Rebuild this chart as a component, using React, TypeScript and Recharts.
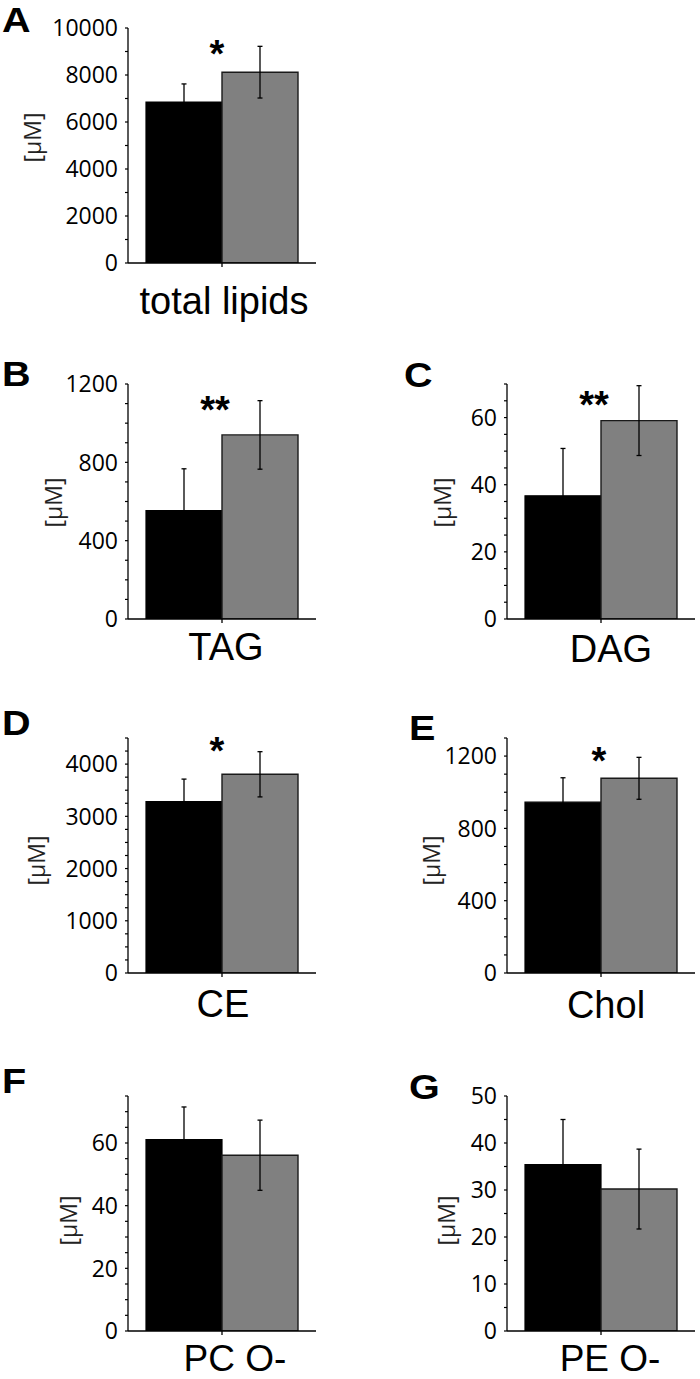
import React from 'react';
import { BarChart, Bar, XAxis, YAxis, ErrorBar, ReferenceDot } from 'recharts';

// one category per panel, two groups (black / gray)
const panelLetters = ['A', 'B', 'C', 'D', 'E', 'F', 'G'];
const lipidClasses = ['total lipids', 'TAG', 'DAG', 'CE', 'Chol', 'PC O-', 'PE O-'];
const blackMeans = [6850, 554, 36.7, 3280, 945, 61.1, 35.4];
const blackErrors = [770, 213, 14.1, 433, 135, 10.4, 9.6];
const grayMeans = [8120, 940, 59.1, 3805, 1077, 56.1, 30.2];
const grayErrors = [1100, 175, 10.4, 433, 116, 11.2, 8.5];
const significance = ['*', '**', '**', '*', '*', '', ''];
const significanceLevel = [9280, 1115, 66.4, 4430, 1222, 0, 0];
const axisMax = [10000, 1200, 70, 4500, 1300, 75, 50];
const majorTicks = [
    [0, 2000, 4000, 6000, 8000, 10000],
    [0, 400, 800, 1200],
    [0, 20, 40, 60],
    [0, 1000, 2000, 3000, 4000],
    [0, 400, 800, 1200],
    [0, 20, 40, 60],
    [0, 10, 20, 30, 40, 50],
];
const minorStep = [1000, 100, 5, 250, 100, 5, 5];

// page placement of each panel
const layout = [
    { left: 0, plotTop: 28, letterX: 2, letterY: 7, yLabelOffset: 96, yLabelDy: -8, catDx: 2, catMargin: 20, sigDx: -5 },
    { left: 0, plotTop: 383.5, letterX: 2, letterY: 361, yLabelOffset: 75, yLabelDy: 1, catDx: 4, catMargin: 10, sigDx: -7 },
    { left: 379, plotTop: 384, letterX: 404, letterY: 362, yLabelOffset: 65, yLabelDy: 1, catDx: 10, catMargin: 12, sigDx: -7 },
    { left: 0, plotTop: 737.5, letterX: 2, letterY: 710, yLabelOffset: 92, yLabelDy: 5, catDx: 1, catMargin: 13, sigDx: -5 },
    { left: 379, plotTop: 738, letterX: 409, letterY: 715, yLabelOffset: 76, yLabelDy: 5, catDx: 5, catMargin: 14, sigDx: -2 },
    { left: 0, plotTop: 1096, letterX: 2, letterY: 1068, yLabelOffset: 60, yLabelDy: 7, catDx: 13, catMargin: 10, sigDx: 0 },
    { left: 379, plotTop: 1096, letterX: 409, letterY: 1074, yLabelOffset: 61, yLabelDy: 7, catDx: 9, catMargin: 10, sigDx: 0 },
];

const PLOT_H = 235;
const TOP_PAD = 22;
const X_AXIS_H = 60;
const tickFont = '"Open Sans", "DejaVu Sans", sans-serif';
const labelFont = '"Liberation Sans", Arial, sans-serif';

function Panel({ i }: { i: number }) {
    const L = layout[i];
    const data = [
        {
            name: lipidClasses[i],
            black: blackMeans[i],
            blackErr: blackErrors[i],
            gray: grayMeans[i],
            grayErr: grayErrors[i],
        },
    ];
    const ticks: number[] = [];
    for (let k = 0; k * minorStep[i] <= axisMax[i] + 1e-9; k++) ticks.push(k * minorStep[i]);
    const majors = majorTicks[i];
    const width = L.left === 0 ? 330 : 321;
    const rightMargin = width - 128 - 188;
    const catSize = i >= 5 ? 37 : 38;

    const yTick = (props: any) => {
        const { x, y, payload } = props;
        if (!majors.includes(payload.value)) return <g />;
        return (
            <text x={x} y={y} dy="0.36em" textAnchor="end" fontSize={23} fontFamily={tickFont} fill="#000">
                {payload.value}
            </text>
        );
    };

    const xTick = (props: any) => {
        const { x, y, payload } = props;
        return (
            <text x={x + L.catDx} y={y} dy="0.71em" textAnchor="middle" fontSize={catSize} fontFamily={labelFont} fill="#000">
                {payload.value}
            </text>
        );
    };

    const yLabel = (props: any) => {
        const vb = props.viewBox || {};
        const cx = (vb.x ?? 0) + (vb.width ?? 128) - L.yLabelOffset;
        const cy = (vb.y ?? TOP_PAD) + (vb.height ?? PLOT_H) / 2 + L.yLabelDy;
        return (
            <text
                x={cx}
                y={cy}
                transform={`rotate(-90 ${cx} ${cy})`}
                textAnchor="middle"
                dominantBaseline="central"
                fontSize={23}
                fontFamily={tickFont}
                fill="#222"
            >
                [μM]
            </text>
        );
    };

    const star = (props: any) => (
        <text
            x={props.cx + L.sigDx}
            y={props.cy + 22}
            textAnchor="middle"
            fontSize={38}
            fontWeight="bold"
            fontFamily={labelFont}
            fill="#000"
        >
            {significance[i]}
        </text>
    );

    return (
        <div style={{ position: 'absolute', left: L.left, top: L.plotTop - TOP_PAD }}>
            <BarChart
                width={width}
                height={TOP_PAD + PLOT_H + X_AXIS_H}
                data={data}
                margin={{ top: TOP_PAD, right: rightMargin, bottom: 0, left: 0 }}
                barCategoryGap={18}
                barGap={0}
            >
                <XAxis
                    dataKey="name"
                    height={X_AXIS_H}
                    interval={0}
                    axisLine={{ stroke: '#000', strokeWidth: 1.3 }}
                    tickLine={{ stroke: '#000', strokeWidth: 1.3 }}
                    tickSize={4}
                    tickMargin={L.catMargin}
                    tick={xTick}
                />
                <YAxis
                    type="number"
                    width={128}
                    domain={[0, axisMax[i]]}
                    allowDataOverflow
                    ticks={ticks}
                    interval={0}
                    axisLine={{ stroke: '#000', strokeWidth: 1.3 }}
                    tickLine={{ stroke: '#000', strokeWidth: 1.2 }}
                    tickSize={3}
                    tickMargin={7}
                    tick={yTick}
                    label={{ content: yLabel }}
                />
                <Bar dataKey="black" fill="#000" stroke="#000" strokeWidth={1.2} isAnimationActive={false}>
                    <ErrorBar dataKey="blackErr" width={2.5} stroke="#000" strokeWidth={1.3} isAnimationActive={false} />
                </Bar>
                <Bar dataKey="gray" fill="#808080" stroke="#1a1a1a" strokeWidth={1.4} isAnimationActive={false}>
                    <ErrorBar dataKey="grayErr" width={2.5} stroke="#000" strokeWidth={1.3} isAnimationActive={false} />
                </Bar>
                {significance[i] && (
                    <ReferenceDot x={lipidClasses[i]} y={significanceLevel[i]} r={1} shape={star} />
                )}
            </BarChart>
        </div>
    );
}

export default function App() {
    return (
        <div
            style={{
                position: 'absolute',
                left: 0,
                top: 0,
                width: 700,
                height: 1379,
                background: '#fff',
                overflow: 'hidden',
            }}
        >
            {panelLetters.map((letter, i) => (
                <Panel key={letter} i={i} />
            ))}
            {panelLetters.map((letter, i) => (
                <div
                    key={`l-${letter}`}
                    style={{
                        position: 'absolute',
                        left: layout[i].letterX,
                        top: layout[i].letterY - 4.6,
                        fontFamily: labelFont,
                        fontWeight: 'bold',
                        fontSize: 35,
                        lineHeight: 1,
                        color: '#000',
                        transform: 'scaleX(1.13)',
                        transformOrigin: 'left top',
                    }}
                >
                    {letter}
                </div>
            ))}
        </div>
    );
}
